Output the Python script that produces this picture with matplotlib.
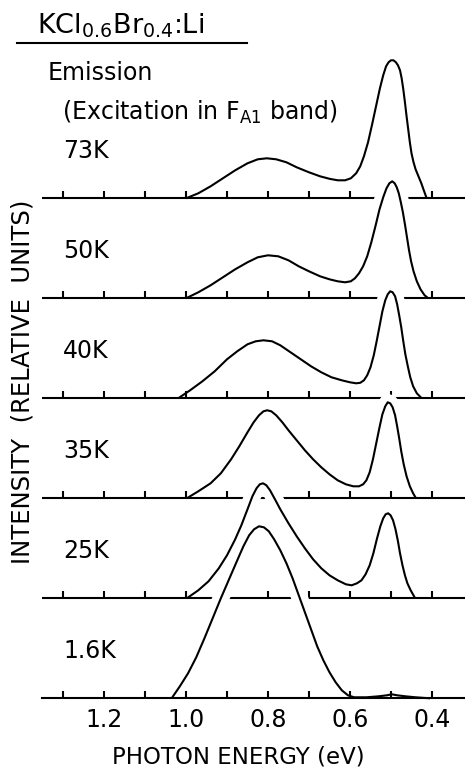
import matplotlib

matplotlib.use("Agg")
import matplotlib.pyplot as plt
import matplotlib.patheffects as pe
from matplotlib.lines import Line2D

# emission spectra, heights in units of the panel spacing
temperatures = ["73K", "50K", "40K", "35K", "25K", "1.6K"]

energy_73k = [1.000, 0.970, 0.940, 0.910, 0.880, 0.850, 0.825, 0.803, 0.780, 0.755, 0.730,
              0.700, 0.673, 0.650, 0.630, 0.612, 0.598, 0.585, 0.575, 0.566, 0.556, 0.546,
              0.536, 0.527, 0.519, 0.512, 0.506, 0.500, 0.494, 0.488, 0.483, 0.478, 0.474,
              0.470, 0.466, 0.462, 0.458, 0.454, 0.450, 0.445, 0.440, 0.433, 0.426, 0.420,
              0.413]
intensity_73k = [0.00, 0.05, 0.12, 0.20, 0.28, 0.35, 0.39, 0.40, 0.39, 0.36, 0.31,
                 0.26, 0.22, 0.195, 0.18, 0.18, 0.20, 0.25, 0.32, 0.42, 0.56, 0.74,
                 0.93, 1.10, 1.23, 1.32, 1.36, 1.38, 1.38, 1.36, 1.33, 1.28, 1.20,
                 1.09, 0.96, 0.82, 0.69, 0.56, 0.45, 0.36, 0.29, 0.22, 0.15, 0.08,
                 0.00]

energy_50k = [1.000, 0.970, 0.940, 0.910, 0.880, 0.850, 0.825, 0.800, 0.775, 0.750, 0.725,
              0.700, 0.673, 0.650, 0.630, 0.612, 0.598, 0.588, 0.578, 0.568, 0.558, 0.548,
              0.538, 0.528, 0.519, 0.511, 0.504, 0.497, 0.491, 0.486, 0.481, 0.476, 0.471,
              0.466, 0.461, 0.456, 0.451, 0.445, 0.437, 0.428, 0.418, 0.409]
intensity_50k = [0.00, 0.06, 0.13, 0.21, 0.29, 0.36, 0.41, 0.43, 0.42, 0.38, 0.32,
                 0.27, 0.22, 0.19, 0.17, 0.16, 0.17, 0.20, 0.25, 0.32, 0.42, 0.56,
                 0.72, 0.89, 1.01, 1.10, 1.15, 1.17, 1.15, 1.11, 1.05, 0.96, 0.86,
                 0.74, 0.61, 0.48, 0.37, 0.27, 0.17, 0.09, 0.03, 0.00]

energy_40k = [1.019, 0.990, 0.960, 0.930, 0.900, 0.875, 0.850, 0.830, 0.811, 0.790, 0.770,
              0.745, 0.720, 0.695, 0.670, 0.645, 0.620, 0.600, 0.585, 0.575, 0.566, 0.558,
              0.550, 0.542, 0.535, 0.528, 0.521, 0.514, 0.508, 0.502, 0.496, 0.490, 0.485,
              0.480, 0.475, 0.470, 0.465, 0.459, 0.453, 0.446, 0.437, 0.425]
intensity_40k = [0.00, 0.08, 0.17, 0.27, 0.39, 0.47, 0.54, 0.57, 0.58, 0.57, 0.53,
                 0.46, 0.39, 0.32, 0.26, 0.21, 0.18, 0.16, 0.15, 0.155, 0.18, 0.23,
                 0.31, 0.43, 0.57, 0.72, 0.87, 0.98, 1.04, 1.07, 1.06, 1.02, 0.94,
                 0.83, 0.71, 0.57, 0.44, 0.32, 0.21, 0.12, 0.05, 0.00]

energy_35k = [0.998, 0.970, 0.940, 0.915, 0.890, 0.870, 0.850, 0.835, 0.822, 0.811, 0.802,
              0.792, 0.780, 0.765, 0.750, 0.730, 0.710, 0.690, 0.670, 0.650, 0.630, 0.610,
              0.592, 0.578, 0.568, 0.560, 0.552, 0.544, 0.536, 0.528, 0.521, 0.514, 0.508,
              0.502, 0.496, 0.490, 0.485, 0.480, 0.475, 0.469, 0.462, 0.454, 0.446, 0.439]
intensity_35k = [0.00, 0.07, 0.15, 0.25, 0.39, 0.52, 0.66, 0.76, 0.83, 0.87, 0.88,
                 0.87, 0.83, 0.76, 0.68, 0.58, 0.48, 0.39, 0.31, 0.24, 0.18, 0.14,
                 0.12, 0.12, 0.14, 0.18, 0.26, 0.39, 0.55, 0.71, 0.84, 0.92, 0.96,
                 0.95, 0.91, 0.83, 0.72, 0.60, 0.47, 0.34, 0.22, 0.12, 0.05, 0.00]

energy_25k = [0.998, 0.970, 0.945, 0.920, 0.900, 0.880, 0.865, 0.850, 0.838, 0.828, 0.820,
              0.812, 0.804, 0.795, 0.783, 0.770, 0.750, 0.730, 0.710, 0.690, 0.670, 0.650,
              0.630, 0.610, 0.596, 0.583, 0.572, 0.562, 0.552, 0.543, 0.534, 0.526, 0.519,
              0.513, 0.507, 0.501, 0.495, 0.489, 0.483, 0.478, 0.472, 0.466, 0.460, 0.452,
              0.441]
intensity_25k = [0.00, 0.08, 0.17, 0.30, 0.43, 0.59, 0.73, 0.89, 1.02, 1.10, 1.14,
                 1.15, 1.13, 1.08, 0.99, 0.89, 0.75, 0.62, 0.50, 0.39, 0.30, 0.23,
                 0.18, 0.14, 0.13, 0.15, 0.18, 0.24, 0.33, 0.45, 0.60, 0.72, 0.80,
                 0.84, 0.85, 0.83, 0.78, 0.69, 0.57, 0.45, 0.33, 0.23, 0.15, 0.08,
                 0.00]

energy_1_6k = [1.035, 1.015, 0.995, 0.975, 0.955, 0.935, 0.915, 0.895, 0.876, 0.860, 0.846,
               0.834, 0.822, 0.810, 0.798, 0.785, 0.770, 0.755, 0.740, 0.725, 0.710, 0.695,
               0.680, 0.665, 0.650, 0.635, 0.620, 0.605, 0.590, 0.560, 0.530, 0.510, 0.498,
               0.485, 0.465, 0.440, 0.405]
intensity_1_6k = [0.00, 0.12, 0.25, 0.41, 0.60, 0.80, 1.00, 1.19, 1.37, 1.52, 1.63,
                  1.69, 1.72, 1.71, 1.67, 1.59, 1.48, 1.35, 1.20, 1.03, 0.86, 0.69,
                  0.52, 0.38, 0.26, 0.16, 0.08, 0.03, 0.01, 0.01, 0.02, 0.03, 0.04,
                  0.03, 0.02, 0.01, 0.00]

energies = [energy_73k, energy_50k, energy_40k, energy_35k, energy_25k, energy_1_6k]
intensities = [intensity_73k, intensity_50k, intensity_40k, intensity_35k, intensity_25k, intensity_1_6k]

major_ticks = [1.2, 1.0, 0.8, 0.6, 0.4]
minor_ticks = [1.3, 1.1, 0.9, 0.7, 0.5]
tick_labels = ["1.2", "1.0", "0.8", "0.6", "0.4"]

W, H = 465, 769
LW = 1.5
TICK_LEN = 0.07  # in panel units

fig = plt.figure(figsize=(W / 100, H / 100), dpi=100)
ax = fig.add_axes([42 / W, 0, 423 / W, 1])
ax.set_xlim(1.3512, 0.3195)
ax.set_ylim(-0.707, 6.983)

n = len(temperatures)
all_ticks = sorted(major_ticks + minor_ticks)
for i, (label, e, y) in enumerate(zip(temperatures, energies, intensities)):
    offset = n - 1 - i
    # lower curves cut a white gap into the baseline above them
    ax.plot(e, [v + offset for v in y], color="black", lw=LW, zorder=2 * i + 2,
            solid_capstyle="butt", solid_joinstyle="round",
            path_effects=[pe.Stroke(linewidth=12, foreground="white"), pe.Normal()])
    if i < n - 1:
        ax.axhline(offset, color="black", lw=LW, zorder=2 * i + 3)
        ax.vlines(all_ticks, offset, offset + TICK_LEN, color="black", lw=LW, zorder=2 * i + 3)
    ax.text(1.30, offset + 0.47, label, ha="left", va="center", fontsize=17, zorder=30)

# bottom panel baseline is the real x axis
for side in ["top", "right", "left"]:
    ax.spines[side].set_visible(False)
ax.spines["bottom"].set_position(("data", 0))
ax.spines["bottom"].set_linewidth(LW)
ax.spines["bottom"].set_zorder(2 * n + 1)
ax.xaxis.set_zorder(2 * n + 1)
ax.set_yticks([])
ax.set_xticks(major_ticks)
ax.set_xticklabels(tick_labels)
ax.set_xticks(minor_ticks, minor=True)
ax.tick_params(axis="x", which="both", direction="in", length=5, width=LW, pad=7, labelsize=17)
ax.patch.set_alpha(0)

ax.set_xlabel("PHOTON ENERGY (eV)", fontsize=16.5)
ax.xaxis.label.set_va("center")
ax.xaxis.set_label_coords((238 - 42) / 423, 1 - 757 / H)
ax.set_ylabel("INTENSITY  (RELATIVE  UNITS)", fontsize=17.5)
ax.yaxis.label.set_va("center")
ax.yaxis.set_label_coords((23 - 42) / 423, 1 - 382 / H)

# header
fig.text(37 / W, 1 - 33 / H, r"KCl$_{0.6}$Br$_{0.4}$:Li", fontsize=19.5, ha="left", va="baseline")
fig.add_artist(Line2D([17 / W, 247 / W], [1 - 43 / H, 1 - 43 / H], color="black", lw=LW))
fig.text(48 / W, 1 - 80 / H, "Emission", fontsize=17, ha="left", va="baseline")
fig.text(62 / W, 1 - 120 / H, r"(Excitation in F$_{\mathrm{A1}}$ band)", fontsize=17,
         ha="left", va="baseline")

fig.savefig("out.png", dpi=100)
